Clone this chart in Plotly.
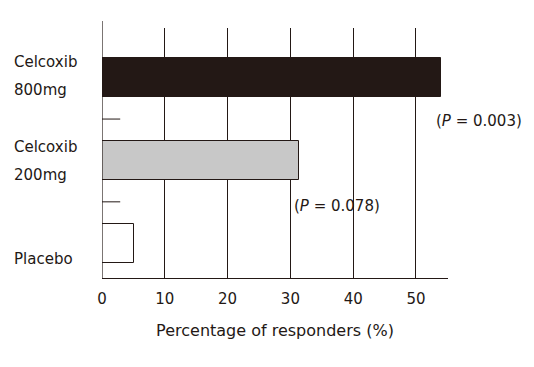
import plotly.graph_objects as go

categories = ["Placebo", "Celcoxib 200mg", "Celcoxib 800mg"]
label_lines = [["Placebo"], ["Celcoxib", "200mg"], ["Celcoxib", "800mg"]]
values = [5.1, 31.3, 54.0]
bar_colors = ["#ffffff", "#c8c8c8", "#231815"]
p_labels = [None, "(<i>P</i> = 0.078)", "(<i>P</i> = 0.003)"]
x_ticks = [0, 10, 20, 30, 40, 50]
x_title = "Percentage of responders (%)"

FONT = "DejaVu Sans"
fig = go.Figure()
fig.add_trace(go.Bar(
    y=list(range(len(categories))), x=values, orientation="h",
    width=0.47,
    marker=dict(color=bar_colors, line=dict(color="#231815", width=1)),
    hoverinfo="skip", showlegend=False,
))

annotations = []
label_shifts = [[-16], [13, -15], [16, -12]]
for i, lines in enumerate(label_lines):
    for line, s in zip(lines, label_shifts[i]):
        annotations.append(dict(
            x=-0.26, xref="paper", xanchor="left", y=i, yref="y", yshift=s,
            text=line, showarrow=False, font=dict(family=FONT, size=15, color="#231815"),
        ))
p_shifts = [0, -46, -43]
for i, p in enumerate(p_labels):
    if p:
        annotations.append(dict(
            x=values[i], xref="x", xanchor="left", xshift=-7, y=i, yref="y", yshift=p_shifts[i],
            text=p, showarrow=False, font=dict(family=FONT, size=15, color="#231815"),
        ))

shapes = [
    dict(type="line", xref="x", yref="paper", x0=0, x1=0, y0=0, y1=1.028,
         line=dict(color="#231815", width=1.2)),
]
for b in [0.5, 1.5]:
    shapes.append(dict(type="line", xref="x", yref="y", x0=0, x1=2.9, y0=b, y1=b,
                       line=dict(color="#231815", width=1)))

fig.update_layout(
    width=526, height=359,
    margin=dict(l=94, r=86, t=20, b=89),
    paper_bgcolor="white", plot_bgcolor="white",
    font=dict(family=FONT, size=15, color="#231815"),
    annotations=annotations, shapes=shapes,
    bargap=0,
)
fig.update_xaxes(
    range=[0, 55.1], tickvals=x_ticks, showgrid=True, gridcolor="#231815", gridwidth=1,
    showline=True, linecolor="#231815", linewidth=1.2, zeroline=False,
    ticks="", tickfont=dict(family=FONT, size=15), ticklabelstandoff=7,
    title=dict(text=x_title, font=dict(family=FONT, size=16), standoff=17),
)
fig.update_yaxes(
    range=[-0.42, 2.60], showticklabels=False, showgrid=False, zeroline=False,
    showline=False, ticks="",
)

fig.write_html("out.html")
